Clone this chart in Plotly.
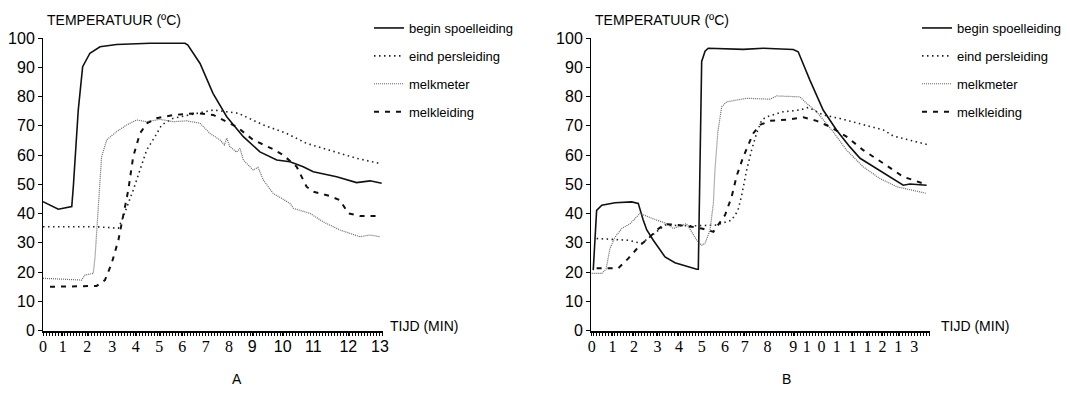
import plotly.graph_objects as go

# ---------------- data (x in axis position units, y in degrees C) ----------------
# Panel A
a_begin_x = [0, 0.59, 1.11, 1.17, 1.36, 1.53, 1.81, 2.20, 2.84, 4.13, 5.48, 5.59, 6.06, 6.56, 7.09,
             7.73, 8.37, 9.02, 9.53, 10.04, 10.43, 11.33, 12.10, 12.62, 13.07]
a_begin_y = [44.1, 41.5, 42.4, 49.2, 75.3, 90.2, 94.8, 97.0, 97.8, 98.2, 98.2, 97.6, 91.3, 81.1, 73.1,
             66.3, 61.1, 58.3, 57.7, 56.0, 54.3, 52.6, 50.6, 51.2, 50.4]

a_eind_x = [0, 2.07, 2.91, 3.10, 3.48, 3.74, 4.00, 4.32, 4.58, 5.03, 5.93, 6.57, 7.09, 7.53, 8.50,
            9.40, 10.17, 11.07, 12.10, 13.07]
a_eind_y = [35.5, 35.5, 35.0, 39.0, 48.0, 54.9, 61.7, 66.3, 70.3, 72.6, 74.3, 75.4, 74.8, 74.3, 70.3,
            67.4, 64.0, 61.7, 58.9, 57.0]

a_meter_x = [0, 1.49, 1.62, 1.94, 2.01, 2.13, 2.26, 2.46, 2.84, 3.23, 3.61, 4.00, 4.51, 5.03, 5.54,
             6.06, 6.44, 6.83, 7.00, 7.09, 7.21, 7.47, 7.60, 7.73, 8.11, 8.30, 8.50, 8.88, 9.53, 9.66,
             10.30, 10.81, 11.46, 12.23, 12.62, 13.00]
a_meter_y = [17.9, 17.3, 19.0, 19.6, 25.3, 42.4, 59.4, 65.2, 68.0, 70.3, 72.0, 71.4, 72.2, 71.4, 71.7,
             70.9, 67.4, 65.2, 63.5, 65.8, 62.9, 61.0, 62.3, 58.3, 54.9, 55.8, 51.5, 46.9, 43.5, 41.8,
             40.1, 37.2, 34.4, 32.1, 32.7, 32.1]

a_leiding_x = [0.27, 2.07, 2.39, 2.65, 2.91, 3.10, 3.29, 3.48, 3.74, 4.00, 4.39, 5.03, 5.93, 6.57,
               7.09, 7.47, 8.11, 8.88, 9.27, 9.79, 10.17, 10.43, 11.07, 11.46, 11.78, 12.23, 12.94]
a_leiding_y = [15.0, 15.3, 17.3, 23.0, 31.0, 39.0, 48.0, 59.4, 67.4, 70.8, 72.6, 73.7, 74.3, 73.7,
               71.4, 69.7, 65.2, 62.0, 60.0, 56.0, 49.2, 47.5, 46.0, 44.6, 40.1, 39.2, 39.2]

# Panel B
b_begin_x = [0.10, 0.25, 0.48, 1.07, 1.81, 2.10, 2.32, 2.48, 2.77, 3.29, 3.73, 4.32, 4.70, 4.77,
             4.92, 5.07, 5.21, 6.77, 7.66, 8.99, 9.21, 9.73, 10.32, 10.92, 11.51, 11.96, 12.55,
             13.29, 13.88, 14.18, 14.92]
b_begin_y = [20.7, 41.1, 42.9, 43.7, 44.0, 43.5, 37.8, 34.4, 30.9, 25.2, 23.2, 21.8, 21.0, 21.0,
             92.0, 95.5, 96.5, 96.1, 96.5, 96.1, 95.3, 85.6, 75.4, 68.5, 62.8, 58.9, 56.0,
             52.6, 49.7, 50.1, 49.7]

b_eind_x = [0.25, 1.66, 2.25, 2.84, 3.29, 4.40, 5.59, 6.25, 6.53, 6.70, 6.92, 7.14, 7.36, 7.59,
            7.81, 8.55, 9.29, 9.66, 10.32, 11.07, 12.10, 12.99, 13.44, 15.0]
b_eind_y = [31.5, 30.9, 29.8, 33.5, 36.1, 35.8, 36.1, 37.8, 41.0, 46.3, 54.9, 61.7, 67.4, 72.0,
            73.1, 74.8, 75.4, 76.3, 73.7, 72.5, 70.3, 68.6, 66.5, 63.5]

b_meter_x = [0.03, 0.48, 0.67, 0.84, 1.07, 1.38, 1.73, 2.18, 2.70, 3.36, 3.66, 4.25, 4.70, 4.92,
             5.07, 5.29, 5.44, 5.51, 5.64, 5.81, 6.03, 6.92, 7.96, 8.25, 9.29, 9.51, 10.03, 10.76,
             11.36, 11.81, 12.10, 12.84, 13.59, 14.92]
b_meter_y = [19.6, 19.6, 21.0, 28.0, 32.0, 35.0, 36.5, 40.1, 38.4, 36.6, 34.9, 36.6, 30.9, 29.2,
             29.8, 34.4, 43.5, 54.8, 68.0, 76.5, 78.2, 79.4, 79.1, 80.2, 79.9, 78.2, 74.8, 68.0,
             61.7, 58.3, 56.0, 52.0, 49.2, 46.9]

b_leiding_x = [0.25, 1.21, 1.66, 2.18, 2.55, 2.92, 3.29, 3.88, 4.48, 4.92, 5.44, 5.96, 6.25, 6.48,
               6.77, 7.21, 7.51, 7.96, 8.84, 9.44, 10.03, 10.62, 11.36, 12.10, 12.99, 13.88, 14.77]
b_leiding_y = [21.3, 21.3, 24.7, 29.2, 31.5, 34.4, 36.4, 36.1, 35.5, 34.9, 33.8, 39.5, 45.7, 53.0,
               59.4, 67.4, 70.3, 71.7, 72.2, 72.9, 71.7, 69.7, 66.3, 61.7, 57.2, 52.6, 50.3]

series_names = ["begin spoelleiding", "eind persleiding", "melkmeter", "melkleiding"]

a_tick_pos = [0, 0.76, 1.71, 2.67, 3.58, 4.49, 5.37, 6.28, 7.18, 8.07, 9.25, 10.43, 11.78, 13.0]
a_tick_text = ["0", "1", "2", "3", "4", "5", "6", "7", "8", "9", "10", "11", "12", "13"]
b_tick_pos = [0.03, 0.96, 1.91, 2.96, 3.91, 4.92, 5.96, 6.84, 7.85, 8.99, 9.59, 10.25, 10.92,
              11.63, 12.30, 12.96, 13.66, 14.37]
b_tick_text = ["0", "1", "2", "3", "4", "5", "6", "7", "8", "9", "1", "0", "1", "1", "1", "2", "1", "3"]

y_ticks = [0, 10, 20, 30, 40, 50, 60, 70, 80, 90, 100]

# ---------------- styles ----------------
styles = [
    dict(color="#111111", width=1.6, dash="solid"),
    dict(color="#222222", width=1.6, dash="1.5px,3.5px"),
    dict(color="#666666", width=1.2, dash="1px,1px"),
    dict(color="#111111", width=2.0, dash="5px,6px"),
]

SANS = "Liberation Sans, Arial, sans-serif"
SERIF = "Liberation Serif, Times New Roman, serif"

# page has an 8px body margin: figure is sized so it fits in the window
OFF = 8
W, H = 1070 - OFF, 393 - OFF


def px(x):
    return (x - OFF) / W


def py(y):
    return 1 - (y - OFF) / H


fig = go.Figure()

panel_a = [(a_begin_x, a_begin_y), (a_eind_x, a_eind_y), (a_meter_x, a_meter_y), (a_leiding_x, a_leiding_y)]
panel_b = [(b_begin_x, b_begin_y), (b_eind_x, b_eind_y), (b_meter_x, b_meter_y), (b_leiding_x, b_leiding_y)]

for i, (xs, ys) in enumerate(panel_a):
    fig.add_trace(go.Scatter(x=xs, y=ys, mode="lines", name=series_names[i], line=styles[i],
                             xaxis="x", yaxis="y", legend="legend", legendgroup="a%d" % i))
for i, (xs, ys) in enumerate(panel_b):
    fig.add_trace(go.Scatter(x=xs, y=ys, mode="lines", name=series_names[i], line=styles[i],
                             xaxis="x2", yaxis="y2", legend="legend2", legendgroup="b%d" % i))

ydom = [py(330.7), py(38)]

a_tick_html = [t if k < 9 else '<span style="font-family:Liberation Sans">%s</span>' % t
               for k, t in enumerate(a_tick_text)]

common_x = dict(showgrid=False, zeroline=False, showline=True, linecolor="black", linewidth=2,
                ticks="outside", ticklen=3, tickwidth=1, tickcolor="black", ticklabelstandoff=-3,
                tickfont=dict(family=SERIF, size=16, color="black"), tickmode="array")
common_y = dict(showgrid=False, zeroline=False, showline=True, linecolor="black", linewidth=1,
                ticks="outside", ticklen=4, tickwidth=1, tickcolor="black", range=[0, 100],
                tickmode="array", tickvals=y_ticks, ticktext=[str(v) for v in y_ticks],
                tickfont=dict(family=SANS, size=16, color="black"), domain=ydom)

minor_a = dict(ticks="outside", ticklen=3, tickwidth=1, tickcolor="black", tickmode="linear",
               tick0=0, dtick=0.116, showgrid=False)
minor_b = dict(ticks="outside", ticklen=3, tickwidth=1, tickcolor="black", tickmode="linear",
               tick0=0, dtick=0.133, showgrid=False)

fig.update_layout(
    width=W, height=H, margin=dict(l=0, r=0, t=0, b=0, autoexpand=False),
    paper_bgcolor="white", plot_bgcolor="white",
    xaxis=dict(common_x, domain=[px(43), px(383)], range=[0, 13.12], anchor="y",
               tickvals=a_tick_pos, ticktext=a_tick_html, minor=minor_a),
    yaxis=dict(common_y, anchor="x"),
    xaxis2=dict(common_x, domain=[px(591), px(930)], range=[0, 15.07], anchor="y2",
                tickvals=b_tick_pos, ticktext=b_tick_text, minor=minor_b),
    yaxis2=dict(common_y, anchor="x2"),
    legend=dict(x=px(369), y=py(13), xanchor="left", yanchor="top",
                font=dict(family=SANS, size=13, color="black"), tracegroupgap=8,
                bgcolor="rgba(0,0,0,0)", itemclick=False),
    legend2=dict(x=px(917), y=py(13), xanchor="left", yanchor="top",
                 font=dict(family=SANS, size=13, color="black"), tracegroupgap=8,
                 bgcolor="rgba(0,0,0,0)", itemclick=False),
    showlegend=True,
)

ann_font = dict(family=SANS, size=14, color="black")
annotations = [
    dict(text="TEMPERATUUR (ºC)", x=px(45), y=py(20), xanchor="left", yanchor="middle"),
    dict(text="TEMPERATUUR (ºC)", x=px(593), y=py(20), xanchor="left", yanchor="middle"),
    dict(text="TIJD (MIN)", x=px(388), y=py(326), xanchor="left", yanchor="middle"),
    dict(text="TIJD (MIN)", x=px(939), y=py(326), xanchor="left", yanchor="middle"),
    dict(text="A", x=px(237), y=py(379), xanchor="center", yanchor="middle"),
    dict(text="B", x=px(786), y=py(379), xanchor="center", yanchor="middle"),
]
for a in annotations:
    a.update(xref="paper", yref="paper", showarrow=False, font=ann_font)
fig.update_layout(annotations=annotations)

fig.write_html("out.html")
